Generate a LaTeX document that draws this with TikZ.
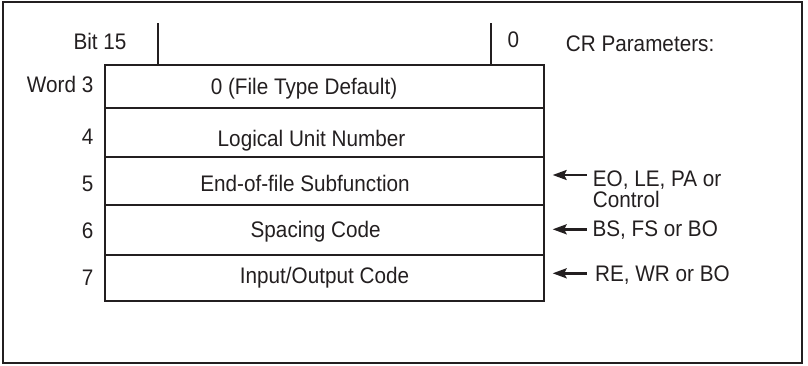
\documentclass[tikz,border=0pt]{standalone}
\usepackage{fontspec}
\setmainfont{Liberation Sans}[FakeStretch=0.92]
\usetikzlibrary{arrows.meta}
\definecolor{ink}{HTML}{231F20}
\begin{document}
\begin{tikzpicture}[x=1pt,y=-1pt,
  every node/.style={font=\fontsize{22.5}{22}\selectfont, text=ink, inner sep=0pt},
  row/.style={draw=ink, line width=2.3pt, rectangle, minimum width=439pt, minimum height=#1},
  txt/.style={anchor=base},
  lbl/.style={anchor=base east},
  param/.style={anchor=base west},
  arr/.style={draw=ink, line width=2.4pt, -{Stealth[length=14pt,width=10pt,inset=2.5pt]}, shorten >=7.5pt},
  tick/.style={draw=ink, line width=2pt}]
  \useasboundingbox (0,0) rectangle (808,365);
  % outer frame
  \draw[ink, line width=2pt] (3,2) rectangle (802,363);

  % register words
  \node[row=43pt] (r3) at (324.5,86.5) {};
  \node[row=49pt] (r4) at (324.5,132.5) {};
  \node[row=48pt] (r5) at (324.5,181) {};
  \node[row=50pt] (r6) at (324.5,230) {};
  \node[row=46pt] (r7) at (324.5,278) {};
  \node[txt] (t3) at (304,94) {0 (File Type Default)};
  \node[txt] (t4) at (311.5,146.5) {Logical Unit Number};
  \node[txt] (t5) at (305,191) {End-of-file Subfunction};
  \node[txt] (t6) at (315.7,237) {Spacing Code};
  \node[txt] (t7) at (324.5,283) {Input/Output Code};

  % word numbers
  \node[lbl] (w3) at (93.5,92.7) {Word 3};
  \node[lbl] (w4) at (93.5,144.3) {4};
  \node[lbl] (w5) at (93.5,191.7) {5};
  \node[lbl] (w6) at (93.5,238) {6};
  \node[lbl] (w7) at (93.5,285) {7};

  % bit header
  \node[param] (b15) at (73.3,49.3) {Bit 15};
  \node[param] (b0) at (507.3,47.3) {0};
  \node[param] (cr) at (565.7,51) {CR Parameters:};
  \coordinate (t15) at (157.7,23);
  \coordinate (t0) at (491,23);
  \draw[tick] (t15) -- (t15 |- r3.north);
  \draw[tick] (t0) -- (t0 |- r3.north);

  % CR parameter values
  \node[param] (p5) at (592.7,186) {EO, LE, PA or};
  \node[param] (p5b) at (592.7,207.7) {Control};
  \node[param] (p6) at (592.3,236.7) {BS, FS or BO};
  \node[param] (p7) at (595,281.7) {RE, WR or BO};
  \coordinate (a5) at (586.7,175);
  \coordinate (a6) at (586.7,229.3);
  \coordinate (a7) at (586.7,273.3);
  \draw[arr] (a5) -- (a5 -| r5.east);
  \draw[arr] (a6) -- (a6 -| r6.east);
  \draw[arr] (a7) -- (a7 -| r7.east);
\end{tikzpicture}
\end{document}
